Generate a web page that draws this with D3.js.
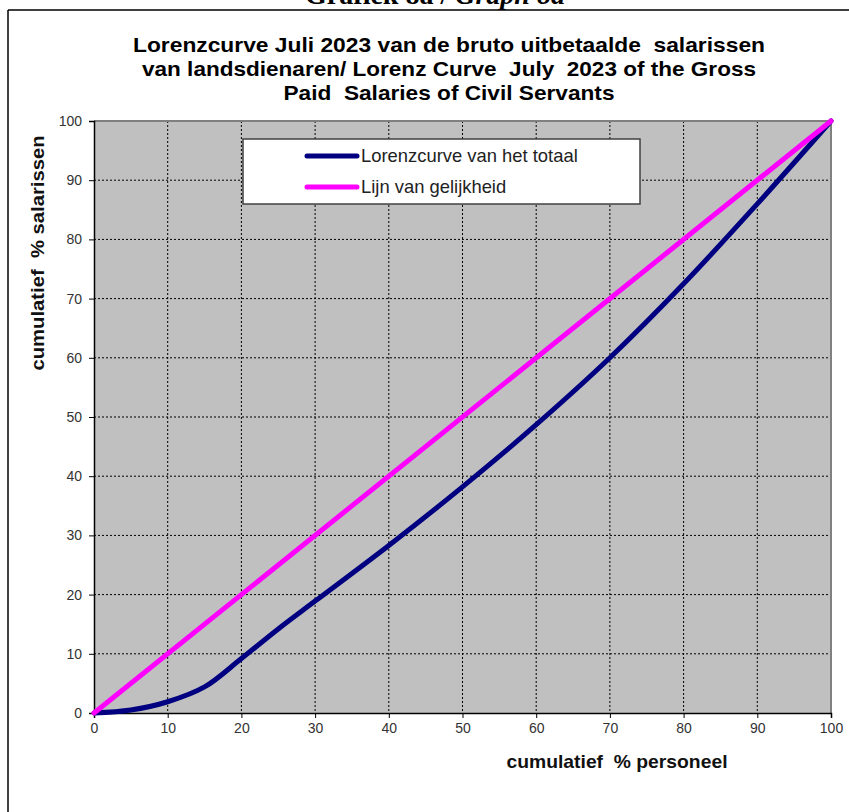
<!DOCTYPE html>
<html>
<head>
<meta charset="utf-8">
<script src="https://cdn.jsdelivr.net/npm/d3@7"></script>
<style>
  html, body { margin: 0; padding: 0; background: #fff; }
  svg { display: block; }
  text { white-space: pre; }
</style>
</head>
<body>
<svg id="chart" width="849" height="812"></svg>
<script>
// ---- data ----
const personeel = [0, 5, 10, 15, 20, 25, 30, 40, 50, 60, 70, 80, 90, 100];
const lorenz    = [0, 0.5, 1.9, 4.4, 9.2, 14.2, 18.9, 28.3, 38.2, 48.7, 60.0, 72.5, 86.0, 100];
const equality  = [0, 100];
const xTicks = [0, 10, 20, 30, 40, 50, 60, 70, 80, 90, 100];
const yTicks = [0, 10, 20, 30, 40, 50, 60, 70, 80, 90, 100];
const seriesNames = ["Lorenzcurve van het totaal", "Lijn van gelijkheid"];
const seriesColors = ["#000080", "#FF00FF"];
const titleLines = [
  "Lorenzcurve Juli 2023 van de bruto uitbetaalde  salarissen",
  "van landsdienaren/ Lorenz Curve  July  2023 of the Gross",
  "Paid  Salaries of Civil Servants"
];
const xLabel = "cumulatief  % personeel";
const yLabel = "cumulatief  % salarissen";

// ---- layout ----
const svg = d3.select("#chart");
const L = 94, R = 831, T = 121, B = 713;
const x = d3.scaleLinear().domain([0, 100]).range([L, R]);
const y = d3.scaleLinear().domain([0, 100]).range([B, T]);
const font = "Arial, 'Liberation Sans', Helvetica, sans-serif";

// outer frame (left and top visible)
svg.append("line").attr("x1", 8).attr("y1", 10).attr("x2", 849).attr("y2", 10)
  .attr("stroke", "#000").attr("stroke-width", 1.5);
svg.append("line").attr("x1", 8).attr("y1", 10).attr("x2", 8).attr("y2", 812)
  .attr("stroke", "#000").attr("stroke-width", 1.5);

// page heading (cut off at the top)
const head = svg.append("text").attr("x", 435).attr("y", 4)
  .attr("text-anchor", "middle")
  .style("font-family", "'Liberation Serif', 'Times New Roman', serif")
  .style("font-size", "28px").style("font-weight", "bold");
head.append("tspan").text("Grafiek 8a / ");
head.append("tspan").style("font-style", "italic").text("Graph 8a");

// chart title
const titleWidths = [632, 614, 331];
titleLines.forEach((t, i) => {
  svg.append("text")
    .attr("x", 449).attr("y", 52 + i * 24)
    .attr("text-anchor", "middle")
    .attr("textLength", titleWidths[i])
    .attr("lengthAdjust", "spacingAndGlyphs")
    .style("font-family", font).style("font-size", "21px").style("font-weight", "bold")
    .attr("fill", "#000")
    .text(t);
});

// plot background
svg.append("rect").attr("x", L).attr("y", T).attr("width", R - L).attr("height", B - T)
  .attr("fill", "#C0C0C0");

// grid lines
const grid = svg.append("g");
grid.selectAll(".gx").data(xTicks.filter(d => d > 0 && d < 100)).enter().append("line")
  .attr("x1", d => x(d)).attr("x2", d => x(d)).attr("y1", T).attr("y2", B)
  .attr("stroke", "#000").attr("stroke-width", 1).attr("stroke-dasharray", "2,2");
grid.selectAll(".gy").data(yTicks.filter(d => d > 0 && d < 100)).enter().append("line")
  .attr("y1", d => y(d)).attr("y2", d => y(d)).attr("x1", L).attr("x2", R)
  .attr("stroke", "#000").attr("stroke-width", 1).attr("stroke-dasharray", "2,2");

// top & right frame of plot (gray)
svg.append("path").attr("d", `M${L},${T}H${R}V${B}`).attr("fill", "none")
  .attr("stroke", "#808080").attr("stroke-width", 2);

// axes
const xAxis = svg.append("g").attr("transform", `translate(0,${B})`)
  .call(d3.axisBottom(x).tickValues(xTicks).tickSize(5).tickPadding(5).tickFormat(d3.format("d")));
const yAxis = svg.append("g").attr("transform", `translate(${L},0)`)
  .call(d3.axisLeft(y).tickValues(yTicks).tickSize(5).tickPadding(7).tickFormat(d3.format("d")));
[xAxis, yAxis].forEach(a => {
  a.select(".domain").attr("stroke", "#000").attr("stroke-width", 1.5);
  a.selectAll(".tick line").attr("stroke", "#000");
  a.selectAll(".tick text").attr("fill", "#333")
    .style("font-family", font).style("font-size", "14px");
});

// series
const straight = d3.line().x(d => x(d[0])).y(d => y(d[1]));
const smooth = d3.line().x(d => x(d[0])).y(d => y(d[1])).curve(d3.curveCatmullRom.alpha(0.5));
svg.append("path").datum(personeel.map((p, i) => [p, lorenz[i]]))
  .attr("d", smooth).attr("fill", "none")
  .attr("stroke", seriesColors[0]).attr("stroke-width", 5).attr("stroke-linecap", "round");
svg.append("path").datum([[0, equality[0]], [100, equality[1]]])
  .attr("d", straight).attr("fill", "none")
  .attr("stroke", seriesColors[1]).attr("stroke-width", 5).attr("stroke-linecap", "round");

// legend
const lg = svg.append("g");
lg.append("rect").attr("x", 243).attr("y", 139).attr("width", 397).attr("height", 65)
  .attr("fill", "#fff").attr("stroke", "#404040").attr("stroke-width", 1.5);
seriesNames.forEach((n, i) => {
  const yy = 156 + i * 31;
  lg.append("line").attr("x1", 307).attr("x2", 357).attr("y1", yy).attr("y2", yy)
    .attr("stroke", seriesColors[i]).attr("stroke-width", 5).attr("stroke-linecap", "round");
  lg.append("text").attr("x", 361).attr("y", yy + 6)
    .style("font-family", font).style("font-size", "18.4px").attr("fill", "#222").text(n);
});

// axis labels
svg.append("text").attr("x", 617).attr("y", 768).attr("text-anchor", "middle")
  .attr("textLength", 221).attr("lengthAdjust", "spacingAndGlyphs")
  .style("font-family", font).style("font-size", "19px").style("font-weight", "bold")
  .attr("fill", "#111").text(xLabel);
svg.append("text").attr("transform", "translate(44,253) rotate(-90)").attr("text-anchor", "middle")
  .attr("textLength", 235).attr("lengthAdjust", "spacingAndGlyphs")
  .style("font-family", font).style("font-size", "19px").style("font-weight", "bold")
  .attr("fill", "#111").text(yLabel);
</script>
</body>
</html>
